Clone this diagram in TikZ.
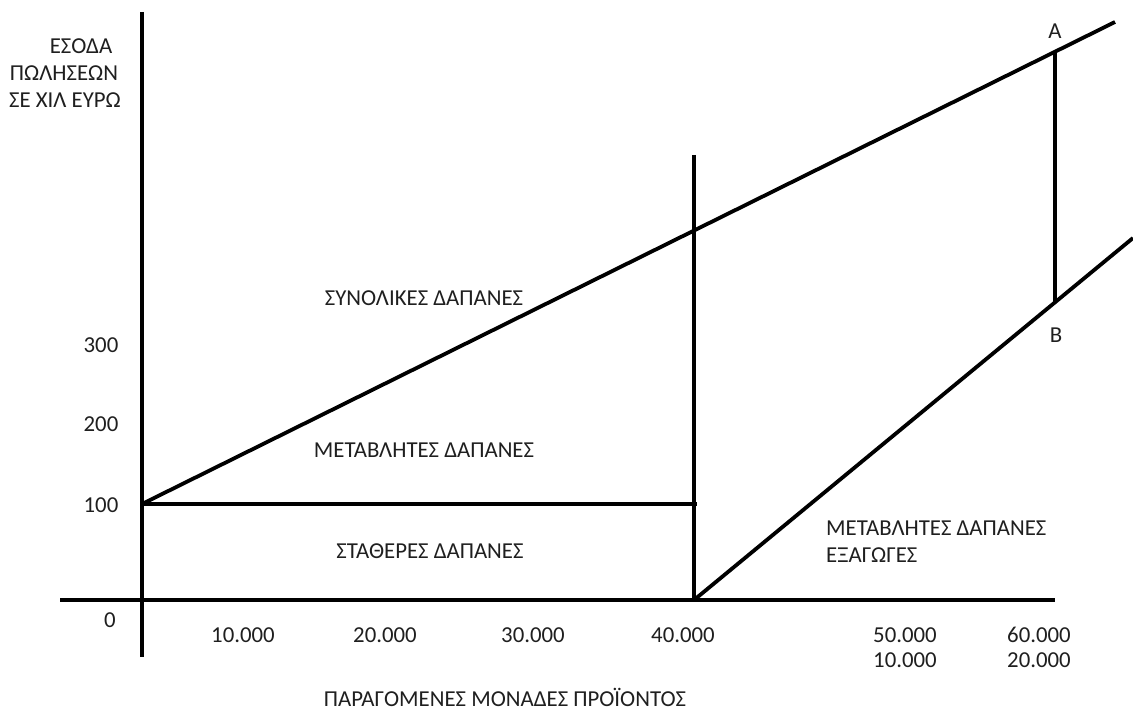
\documentclass[tikz,border=0pt]{standalone}
\usepackage{fontspec}
\setmainfont{Carlito}
\begin{document}
\begin{tikzpicture}[x=1pt,y=-1pt,
  ln/.style={line width=3.8pt,line cap=butt},
  lbl/.style={inner sep=0pt,font=\fontsize{22.8}{26}\selectfont,text=black!88}]
\useasboundingbox (0,0) rectangle (1133,711);
% coordinates
\coordinate (ytop) at (142,12);
\coordinate (ybot) at (142,657);
\coordinate (xl) at (60,600);
\coordinate (xr) at (1055,600);
\coordinate (f0) at (142,504);
\coordinate (f1) at (697,504);
\coordinate (v0) at (694,155);
\coordinate (v1) at (694,600);
\coordinate (t1) at (1115,22);
\coordinate (pa) at (1055,52);
\coordinate (pb) at (1055,302);
\coordinate (e1) at (1133,238);
% lines
\draw[ln] (ytop) -- (ybot);
\draw[ln] (xl) -- (xr);
\draw[ln] (f0) -- (f1);
\draw[ln] (v0) -- (v1);
\draw[ln] (f0) -- (t1);
\draw[ln] (v1) -- (e1);
\draw[ln] (pa) -- (pb);
% labels
\node[lbl] (A) at (1055,31) {A};
\node[lbl] (B) at (1056,335) {B};
\node[lbl] (y1) at (81,46) {ΕΣΟΔΑ};
\node[lbl] (y2) at (64,73) {ΠΩΛΗΣΕΩΝ};
\node[lbl] (y3) at (65,100) {ΣΕ ΧΙΛ ΕΥΡΩ};
\node[lbl] (n300) at (101,345) {300};
\node[lbl] (n200) at (101,424) {200};
\node[lbl] (n100) at (101,505) {100};
\node[lbl] (n0) at (110,620) {0};
\node[lbl] (x1) at (243,635) {10.000};
\node[lbl] (x2) at (385,635) {20.000};
\node[lbl] (x3) at (533,635) {30.000};
\node[lbl] (x4) at (683,635) {40.000};
\node[lbl] (x5) at (905,635) {50.000};
\node[lbl] (x6) at (1039,635) {60.000};
\node[lbl] (x5b) at (905,660) {10.000};
\node[lbl] (x6b) at (1039,660) {20.000};
\node[lbl] (syn) at (424,298) {ΣΥΝΟΛΙΚΕΣ ΔΑΠΑΝΕΣ};
\node[lbl] (met) at (424,450) {ΜΕΤΑΒΛΗΤΕΣ ΔΑΠΑΝΕΣ};
\node[lbl] (sta) at (430,551) {ΣΤΑΘΕΡΕΣ ΔΑΠΑΝΕΣ};
\node[lbl,anchor=west] (exp1) at (826,528) {ΜΕΤΑΒΛΗΤΕΣ ΔΑΠΑΝΕΣ};
\node[lbl,anchor=west] (exp2) at (826,555) {ΕΞΑΓΩΓΕΣ};
\node[lbl] (xt) at (505,697) {ΠΑΡΑΓΟΜΕΝΕΣ ΜΟΝΑΔΕΣ ΠΡΟΪΟΝΤΟΣ};
\end{tikzpicture}
\end{document}
